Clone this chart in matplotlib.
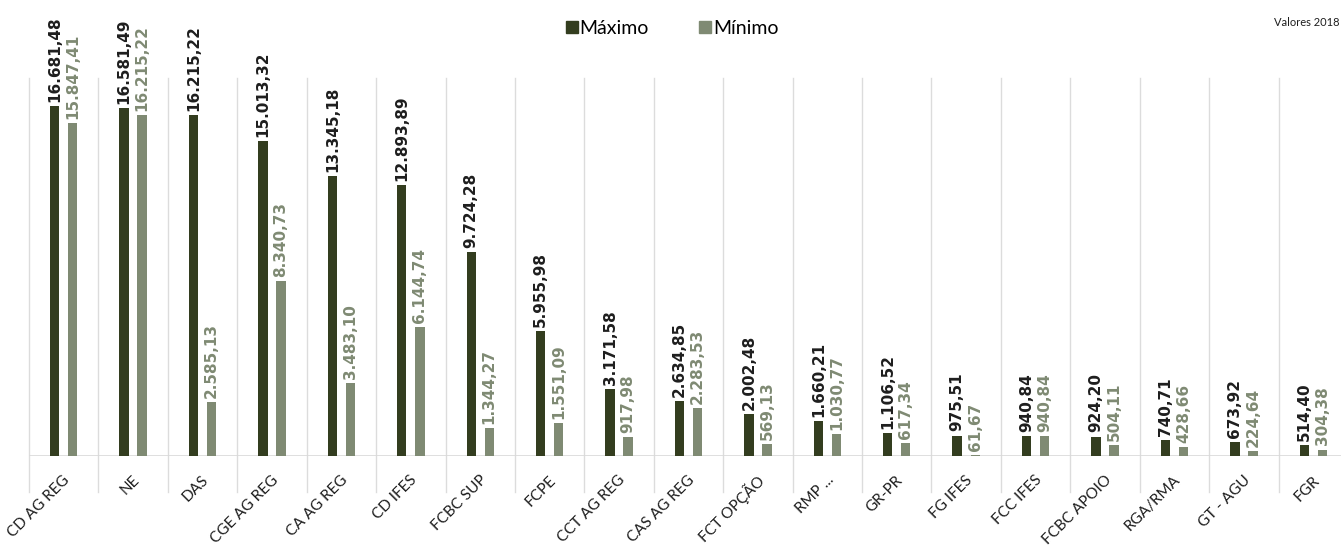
import numpy as np
import matplotlib.pyplot as plt
from matplotlib.lines import Line2D
from matplotlib.transforms import offset_copy

categorias = ['CD AG REG', 'NE', 'DAS', 'CGE AG REG', 'CA AG REG', 'CD IFES',
              'FCBC SUP', 'FCPE', 'CCT AG REG', 'CAS AG REG', 'FCT OPÇÃO',
              'RMP ...', 'GR-PR', 'FG IFES', 'FCC IFES', 'FCBC APOIO',
              'RGA/RMA', 'GT - AGU', 'FGR']
maximo = [16681.48, 16581.49, 16215.22, 15013.32, 13345.18, 12893.89,
          9724.28, 5955.98, 3171.58, 2634.85, 2002.48, 1660.21, 1106.52,
          975.51, 940.84, 924.20, 740.71, 673.92, 514.40]
minimo = [15847.41, 16215.22, 2585.13, 8340.73, 3483.10, 6144.74,
          1344.27, 1551.09, 917.98, 2283.53, 569.13, 1030.77, 617.34,
          61.67, 940.84, 504.11, 428.66, 224.64, 304.38]

cor_max = '#333d1f'
cor_min = '#7f8a73'


def fmt(v):
    # formato brasileiro: 16.681,48
    s = f'{v:,.2f}'
    return s.replace(',', 'X').replace('.', ',').replace('X', '.')


W, H = 1341, 547
fig = plt.figure(figsize=(W / 100, H / 100), dpi=100)
ax = fig.add_axes([29 / W, (H - 456) / H, (1348 - 29) / W, (456 - 78) / H])

x = np.arange(len(categorias))
w = 0.135
off = 0.13
ax.bar(x - off, maximo, w, color=cor_max)
ax.bar(x + off, minimo, w, color=cor_min)

ax.set_xlim(-0.5, len(categorias) - 0.5)
ax.set_ylim(0, 18000)

for xi, a, b in zip(x, maximo, minimo):
    ax.annotate(fmt(a), (xi - off, a), xytext=(0, 3), textcoords='offset points',
                rotation=90, ha='center', va='bottom', fontsize=11,
                fontweight='bold', color='#1e1e1e', annotation_clip=False)
    ax.annotate(fmt(b), (xi + off, b), xytext=(0, 3), textcoords='offset points',
                rotation=90, ha='center', va='bottom', fontsize=11,
                fontweight='bold', color=cor_min, annotation_clip=False)

# linhas separadoras entre categorias, descendo até a área dos rótulos
trans = ax.get_xaxis_transform()
for b in np.arange(len(categorias) + 1) - 0.5:
    ax.plot([b, b], [-0.095, 1], color='#dcdcdc', lw=1, transform=trans,
            clip_on=False, zorder=0)
ax.axhline(0, color='#d9d9d9', lw=1.2, zorder=0)

for s in ax.spines.values():
    s.set_visible(False)
ax.set_yticks([])
ax.set_xticks([])

# rótulos das categorias inclinados a 45 graus
lab_trans = offset_copy(trans, fig=fig, x=4, y=-22, units='dots')
for xi, nome in zip(x, categorias):
    ax.text(xi, 0, nome, transform=lab_trans, rotation=45,
            rotation_mode='anchor', ha='right', va='center',
            fontsize=11, family='Lato', color='#1e1e1e', clip_on=False)

handles = [Line2D([], [], marker='s', ls='', color=cor_max, markersize=8),
           Line2D([], [], marker='s', ls='', color=cor_min, markersize=8)]
fig.legend(handles, ['Máximo', 'Mínimo'], loc='center', bbox_to_anchor=(0.5, 1 - 28 / H),
           ncol=2, frameon=False, prop={'family': 'Lato', 'size': 14},
           handletextpad=-0.1, columnspacing=2.4, handlelength=1.0)

fig.text(1340 / W, 1 - 22 / H, 'Valores 2018', fontsize=8, family='Lato',
         color='#1e1e1e', ha='right', va='center')

fig.savefig('out.png', dpi=100)
